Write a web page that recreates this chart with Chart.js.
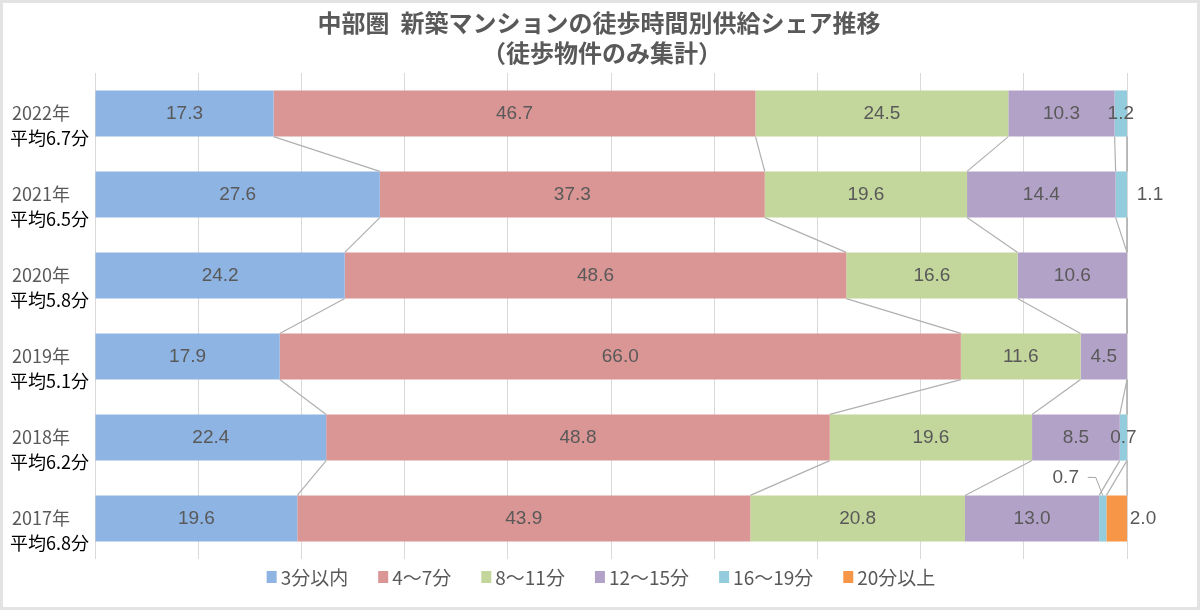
<!DOCTYPE html>
<html><head><meta charset="utf-8">
<style>html,body{margin:0;padding:0;background:#fff;}canvas{display:block;}</style>
<script src="https://cdn.jsdelivr.net/npm/chart.js@4"></script>
</head><body>
<canvas id="c" width="1200" height="610" style="width:1200px;height:610px"></canvas>
<script>
const titleLines = ['中部圏  新築マンションの徒歩時間別供給シェア推移', '（徒歩物件のみ集計）'];
const years = ['2022年', '2021年', '2020年', '2019年', '2018年', '2017年'];
const averages = ['平均6.7分', '平均6.5分', '平均5.8分', '平均5.1分', '平均6.2分', '平均6.8分'];
const seriesNames = ['3分以内', '4～7分', '8～11分', '12～15分', '16～19分', '20分以上'];
const within3 = [17.3, 27.6, 24.2, 17.9, 22.4, 19.6];
const min4to7 = [46.7, 37.3, 48.6, 66.0, 48.8, 43.9];
const min8to11 = [24.5, 19.6, 16.6, 11.6, 19.6, 20.8];
const min12to15 = [10.3, 14.4, 10.6, 4.5, 8.5, 13.0];
const min16to19 = [1.2, 1.1, null, null, 0.7, 0.7];
const over20 = [null, null, null, null, null, 2.0];
const colors = ['#8EB4E3', '#D99694', '#C3D69B', '#B3A2C7', '#93CDDD', '#F79646'];

const allSeries = [within3, min4to7, min8to11, min12to15, min16to19, over20];
const LABEL_FONT = '19px "Liberation Sans", Arial, sans-serif';
const CJK = '"Noto Sans CJK JP", "Noto Sans", sans-serif';

const framePlugin = {
  id: 'frame',
  beforeDraw(chart) {
    const ctx = chart.ctx;
    ctx.save();
    ctx.fillStyle = '#fff';
    ctx.fillRect(0, 0, chart.width, chart.height);
    ctx.strokeStyle = '#E3E3E3';
    ctx.lineWidth = 3;
    ctx.strokeRect(1.5, 1.5, chart.width - 3, chart.height - 3);
    ctx.restore();
  }
};

const titlePlugin = {
  id: 'customTitle',
  afterDraw(chart) {
    const ctx = chart.ctx;
    ctx.save();
    ctx.font = 'bold 24px ' + CJK;
    ctx.fillStyle = '#595959';
    ctx.textAlign = 'center';
    ctx.textBaseline = 'middle';
    ctx.fillText(titleLines[0], 599, 23);
    ctx.fillText(titleLines[1], 602, 53);
    ctx.restore();
  }
};

const seriesLinesPlugin = {
  id: 'seriesLines',
  afterDatasetsDraw(chart) {
    const ctx = chart.ctx;
    const xs = chart.scales.x;
    const n = years.length;
    ctx.save();
    ctx.strokeStyle = '#B0B0B0';
    ctx.lineWidth = 1.2;
    for (let d = 0; d < allSeries.length; d++) {
      const cum = (idx) => { let s = 0; for (let k = 0; k <= d; k++) s += (allSeries[k][idx] || 0); return s; };
      for (let i = 0; i < n - 1; i++) {
        const upper = chart.getDatasetMeta(d).data[i];
        const lower = chart.getDatasetMeta(d).data[i + 1];
        const y1 = upper.y + upper.height / 2;
        const y2 = lower.y - lower.height / 2;
        const x1 = xs.getPixelForValue(Math.min(cum(i), 100));
        const x2 = xs.getPixelForValue(Math.min(cum(i + 1), 100));
        ctx.beginPath();
        ctx.moveTo(x1, y1);
        ctx.lineTo(x2, y2);
        ctx.stroke();
      }
    }
    ctx.restore();
  }
};

const labelsPlugin = {
  id: 'valueLabels',
  afterDatasetsDraw(chart) {
    const ctx = chart.ctx;
    ctx.save();
    ctx.font = LABEL_FONT;
    ctx.fillStyle = '#595959';
    ctx.textBaseline = 'middle';
    ctx.textAlign = 'center';
    chart.data.datasets.forEach((ds, d) => {
      const meta = chart.getDatasetMeta(d);
      meta.data.forEach((el, i) => {
        const v = ds.data[i];
        if (v === null || v === undefined) return;
        const txt = v.toFixed(1);
        const right = el.x, left = el.base;
        let cx = (left + right) / 2, cy = el.y;
        if (d === 4 && i === 1) { cx = right + 23; }
        else if (d === 5 && i === 5) { cx = right + 16; }
        else if (d === 4 && i === 5) {
          cx = cx - 37; cy = el.y - el.height / 2 - 18;
          ctx.save();
          ctx.strokeStyle = '#A6A6A6'; ctx.lineWidth = 1;
          ctx.beginPath();
          ctx.moveTo(cx + 22, cy);
          ctx.lineTo(cx + 30, cy);
          ctx.lineTo((left + right) / 2, el.y - el.height / 2);
          ctx.stroke();
          ctx.restore();
        }
        ctx.fillText(txt, cx, cy);
      });
    });
    ctx.restore();
  }
};

const yLabelPlugin = {
  id: 'yLabels',
  afterDraw(chart) {
    const ctx = chart.ctx;
    const ys = chart.scales.y;
    ctx.save();
    ctx.textAlign = 'left';
    ctx.textBaseline = 'middle';
    years.forEach((yl, i) => {
      const y = ys.getPixelForTick(i);
      ctx.font = '18px ' + CJK;
      ctx.fillStyle = '#595959';
      ctx.fillText(yl, 12, y);
      ctx.fillStyle = '#000';
      ctx.fillText(averages[i], 10, y + 25);
    });
    ctx.restore();
  }
};

const legendPlugin = {
  id: 'customLegend',
  afterDraw(chart) {
    const ctx = chart.ctx;
    ctx.save();
    ctx.font = '19px ' + CJK;
    ctx.textBaseline = 'middle';
    ctx.textAlign = 'left';
    const boxW = 10, boxH = 12, gapBox = 4, gapItem = 30;
    const ds = chart.data.datasets;
    const widths = ds.map(d => boxW + gapBox + ctx.measureText(d.label).width);
    const total = widths.reduce((a, b) => a + b, 0) + gapItem * (ds.length - 1);
    let x = 601 - total / 2;
    const y = 577;
    ds.forEach((d, k) => {
      ctx.fillStyle = d.backgroundColor;
      ctx.fillRect(x, y - boxH / 2, boxW, boxH);
      ctx.fillStyle = '#595959';
      ctx.fillText(d.label, x + boxW + gapBox, y + 1);
      x += widths[k] + gapItem;
    });
    ctx.restore();
  }
};

new Chart(document.getElementById('c'), {
  type: 'bar',
  data: {
    labels: years,
    datasets: allSeries.map((arr, k) => ({
      label: seriesNames[k],
      data: arr,
      backgroundColor: colors[k],
      borderWidth: 0,
      barPercentage: 0.57,
      categoryPercentage: 1.0
    }))
  },
  options: {
    indexAxis: 'y',
    responsive: false,
    animation: false,
    devicePixelRatio: 1,
    layout: { padding: { left: 95, right: 73, top: 73, bottom: 51 } },
    scales: {
      x: {
        stacked: true, min: 0, max: 100,
        ticks: { display: false, stepSize: 10 },
        grid: { color: '#D9D9D9', lineWidth: 1, drawTicks: false },
        border: { display: false }
      },
      y: {
        stacked: true,
        ticks: { display: false },
        grid: { display: false, drawTicks: false },
        border: { display: false }
      }
    },
    plugins: {
      title: { display: false },
      legend: { display: false },
      tooltip: { enabled: false }
    }
  },
  plugins: [framePlugin, titlePlugin, seriesLinesPlugin, labelsPlugin, yLabelPlugin, legendPlugin]
});
</script>
</body></html>
